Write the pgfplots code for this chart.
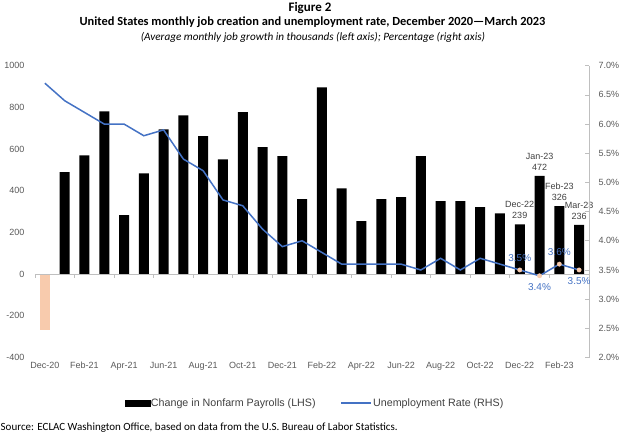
\documentclass[border=0pt]{standalone}
\usepackage{pgfplots}
\pgfplotsset{compat=1.18}
\usepackage{fontspec}
\setmainfont{Liberation Sans}
\newfontfamily\calibri{Carlito}
\definecolor{peach}{RGB}{248,203,173}
\definecolor{ublue}{RGB}{68,114,196}
\definecolor{tickgray}{RGB}{89,89,89}
\definecolor{axgray}{RGB}{191,191,191}
\definecolor{labgray}{RGB}{64,64,64}

\begin{document}
\begin{tikzpicture}
\path[use as bounding box] (0pt,0pt) rectangle (624pt,-441pt);
\node[font=\calibri\bfseries\fontsize{13}{15}\selectfont] at (310pt,-8pt) {Figure 2};
\node[font=\calibri\bfseries\fontsize{12.4}{14}\selectfont] at (312.5pt,-22.5pt) {United States monthly job creation and unemployment rate, December 2020—March 2023};
\node[font=\calibri\itshape\fontsize{11.2}{13}\selectfont] at (313pt,-37pt) {(Average monthly job growth in thousands (left axis); Percentage (right axis)};
\node[font=\calibri\fontsize{11}{13}\selectfont, anchor=west, inner sep=0pt] at (0.5pt,-428pt) {Source: ECLAC Washington Office, based on data from the U.S. Bureau of Labor Statistics.};

\begin{axis}[
  at={(35pt,-357.5pt)}, anchor=south west,
  width=554pt, height=291.8pt, scale only axis,
  xmin=-0.5, xmax=27.5, ymin=-400, ymax=1000,
  ytick={-400,-200,...,1000},
  xtick={0,2,...,26},
  xticklabels={Dec-20,Feb-21,Apr-21,Jun-21,Aug-21,Oct-21,Dec-21,Feb-22,Apr-22,Jun-22,Aug-22,Oct-22,Dec-22,Feb-23},
  axis line style={draw=none},
  major tick length=0pt,
  /pgf/number format/assume math mode=true,
  /pgf/number format/1000 sep={},
  tick label style={font=\fontsize{9}{10}\selectfont, text=tickgray},
  yticklabel style={xshift=-7pt},
  xticklabel style={yshift=-1pt},
  ybar, bar width=10pt, bar shift=0pt,
  clip=false,
]
\addplot[fill=peach, draw=none] coordinates {(0,-268)};
\addplot[fill=black, draw=none] coordinates {
(1,489) (2,570) (3,781) (4,283) (5,484) (6,695) (7,762) (8,662) (9,551)
(10,777) (11,609) (12,566) (13,360) (14,896) (15,412) (16,254) (17,360)
(18,369) (19,566) (20,350) (21,350) (22,321) (23,292)};
\addplot[fill=black, draw=none, nodes near coords, point meta=explicit symbolic,
  every node near coord/.append style={align=center, font=\fontsize{9}{10.8}\selectfont, text=labgray, yshift=2pt}]
  coordinates {(24,239) [Dec-22\\239] (25,472) [Jan-23\\472] (26,326) [Feb-23\\326] (27,236) [Mar-23\\236]};
\draw[axgray, line width=0.75pt] (axis cs:-0.5,0) -- (axis cs:27.5,0);
\pgfplotsinvokeforeach{-0.5,1.5,...,25.5}{
  \draw[axgray, line width=0.75pt] (axis cs:#1,0) -- ++(0pt,-3.5pt);
}
\end{axis}

\begin{axis}[
  at={(35pt,-357.5pt)}, anchor=south west,
  width=554pt, height=291.8pt, scale only axis,
  xmin=-0.5, xmax=27.5, ymin=2, ymax=7,
  axis x line=none, axis y line*=right,
  ytick={2,2.5,...,7},
  /pgf/number format/assume math mode=true,
  /pgf/number format/.cd, fixed, fixed zerofill, precision=1, /pgfplots/.cd,
  yticklabel={\pgfmathprintnumber{\tick}\%},
  y axis line style={draw=axgray, line width=0.75pt},
  tick style={draw=axgray, line width=0.75pt},
  tick align=inside, major tick length=4pt,
  tick label style={font=\fontsize{9}{10}\selectfont, text=tickgray},
  yticklabel style={xshift=6pt},
  clip=false,
  legend columns=2,
  legend style={at={(0.5045,-0.156)}, anchor=center, draw=none, fill=none,
    font=\fontsize{10.7}{12}\selectfont, text=labgray,
    nodes={inner xsep=1pt},
    /tikz/every odd column/.append style={column sep=0pt},
    /tikz/every even column/.append style={column sep=24pt}},
]
\addlegendimage{legend image code/.code={\fill[black] (0pt,-2.8pt) rectangle (25pt,2.8pt);}}
\addlegendentry{Change in Nonfarm Payrolls (LHS)}
\addlegendimage{legend image code/.code={\draw[ublue, line width=1.5pt] (0pt,0pt) -- (30pt,0pt);}}
\addlegendentry{Unemployment Rate (RHS)}
\addplot[ublue, line width=1.5pt, no marks, forget plot] coordinates {
(0,6.7) (1,6.4) (2,6.2) (3,6.0) (4,6.0) (5,5.8) (6,5.9) (7,5.4) (8,5.2) (9,4.7)
(10,4.6) (11,4.2) (12,3.9) (13,4.0) (14,3.8) (15,3.6) (16,3.6) (17,3.6) (18,3.6)
(19,3.5) (20,3.7) (21,3.5) (22,3.7) (23,3.6) (24,3.5) (25,3.4) (26,3.6) (27,3.5)};
\addplot[only marks, mark=*, mark size=2.2pt, mark options={fill=peach, draw=peach}, forget plot,
  nodes near coords, point meta=explicit symbolic,
  every node near coord/.append style={font=\fontsize{10}{12}\selectfont, text=ublue, anchor=south, yshift=5pt}]
  coordinates {(24,3.5) [3.5\%] (26,3.6) [3.6\%]};
\addplot[only marks, mark=*, mark size=2.2pt, mark options={fill=peach, draw=peach}, forget plot,
  nodes near coords, point meta=explicit symbolic,
  every node near coord/.append style={font=\fontsize{10}{12}\selectfont, text=ublue, anchor=north, yshift=-4pt}]
  coordinates {(25,3.4) [3.4\%] (27,3.5) [3.5\%]};
\end{axis}
\end{tikzpicture}
\end{document}
